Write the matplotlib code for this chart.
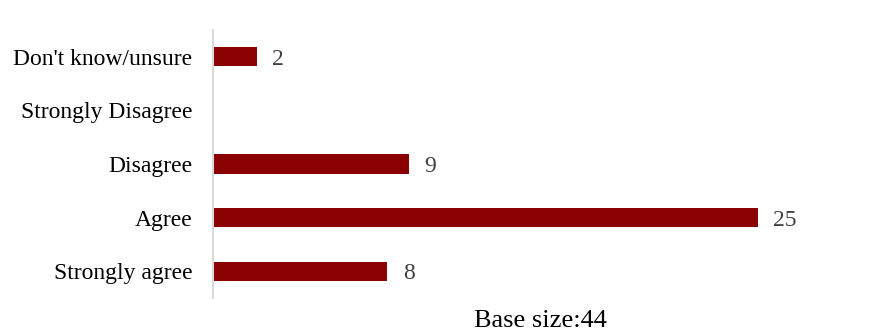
import matplotlib.pyplot as plt

categories = ["Strongly agree", "Agree", "Disagree", "Strongly Disagree", "Don't know/unsure"]
counts = [8, 25, 9, 0, 2]
base_size = 44

plt.rcParams['font.family'] = ['Liberation Serif', 'DejaVu Serif']

fig = plt.figure(figsize=(8.82, 3.31), dpi=100)
ax = fig.add_axes([0.2415, 0.0997, 0.7415, 0.8097])

ypos = list(range(len(categories)))
ax.barh(ypos, counts, height=0.36, color='#8b0000')

for y, v in zip(ypos, counts):
    if v:
        ax.annotate(str(v), xy=(v, y), xytext=(11, 0), textcoords='offset points',
                    ha='left', va='center_baseline', fontsize=17, color='#404040')

ax.set_yticks(ypos)
ax.set_yticklabels(categories, fontsize=17, color='black')
ax.set_xlim(0, 30)
ax.set_ylim(-0.5, 4.5)
ax.set_xticks([])
ax.tick_params(axis='y', length=0, pad=15)

for side in ['top', 'right', 'bottom']:
    ax.spines[side].set_visible(False)
ax.spines['left'].set_color('#d9d9d9')
ax.spines['left'].set_linewidth(1.5)

fig.text(0.613, 0.03, "Base size:%d" % base_size, ha='center', va='center', fontsize=19, color='black')

fig.savefig("out.png", dpi=100)
